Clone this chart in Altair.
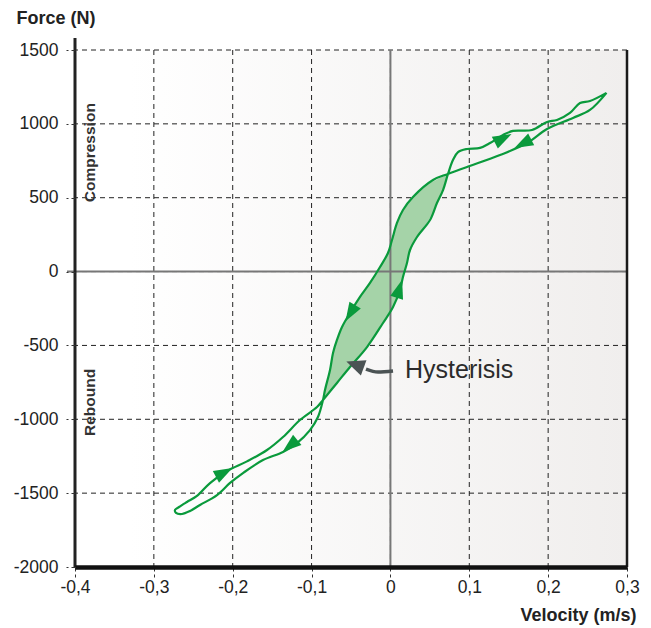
import altair as alt
import pandas as pd

# ---------------- data ----------------
x_ticks = [-0.4, -0.3, -0.2, -0.1, 0.0, 0.1, 0.2, 0.3]
y_ticks = [-2000, -1500, -1000, -500, 0, 500, 1000, 1500]

# closed damper loop (velocity m/s, force N), in drawing order
loop_vx = [0.274, 0.253, 0.2315, 0.1986, 0.1732, 0.139, 0.0971, 0.073, 0.054, 0.0286,
           0.0159, 0.0083, 0.002, -0.0031, -0.0132, -0.0259, -0.0386, -0.0513, -0.0614, -0.0678,
           -0.0728, -0.0766, -0.083, -0.0855, -0.0919, -0.102, -0.1185, -0.1362, -0.1616, -0.187,
           -0.2034, -0.2199, -0.2415, -0.2542, -0.2643, -0.2719, -0.2732, -0.2681, -0.258, -0.2453,
           -0.2288, -0.2072, -0.1819, -0.1565, -0.1362, -0.1147, -0.0931, -0.0855, -0.0678, -0.0513,
           -0.0297, -0.0094, 0.0033, 0.0121, 0.0159, 0.021, 0.0248, 0.0337, 0.0502, 0.059,
           0.0667, 0.073, 0.0793, 0.0857, 0.0971, 0.1136, 0.1263, 0.1428, 0.1554, 0.1795,
           0.1986, 0.2112, 0.2277, 0.2404, 0.2531, 0.274]
loop_fy = [1210, 1094, 1040, 965, 870, 789, 708, 661, 620, 505,
           417, 329, 214, 126, 31, -77, -172, -280, -375, -463,
           -551, -666, -802, -869, -985, -1073, -1161, -1221, -1276, -1364,
           -1431, -1513, -1580, -1621, -1641, -1634, -1614, -1594, -1560, -1519,
           -1432, -1350, -1285, -1208, -1120, -1005, -917, -869, -754, -646,
           -511, -348, -240, -125, -37, 58, 146, 234, 349, 464,
           552, 661, 755, 809, 830, 837, 870, 925, 952, 958,
           1013, 1026, 1074, 1141, 1155, 1210]

# shaded hysteresis lobe: force level, left and right velocity
fill_fy = [661, 600, 500, 400, 300, 200, 100, 0, -100, -200, -300, -400, -500, -600, -700, -800, -869]
fill_left = [0.073, 0.050, 0.028, 0.0145, 0.0067, 0.0012, -0.0059, -0.0168, -0.029, -0.0419,
             -0.0534, -0.0632, -0.0699, -0.0744, -0.0782, -0.0829, -0.0855]
fill_right = [0.073, 0.0695, 0.0621, 0.0541, 0.043, 0.0303, 0.0228, 0.0179, 0.0129, 0.0064,
              -0.0038, -0.0159, -0.0283, -0.0439, -0.0595, -0.0749, -0.0855]

# direction arrows on the loop
arrow_vx = [0.1694, 0.1415, -0.050, 0.0109, -0.1261, -0.2123]
arrow_fy = [870, 898, -274, -125, -1174, -1364]
arrow_angle = [243, 63, 211, 17, 231, 62]

# annotation
note_text = ["Hysterisis"]
note_vx = [0.0185]
note_fy = [-666]
pointer_vx = [0.0033, -0.0158, -0.031]
pointer_fy = [-673, -680, -660]
pointer_head_vx = [-0.0437]
pointer_head_fy = [-633]
pointer_head_angle = [290]

side_text = ["Compression", "Rebound"]
side_vx = [-0.381, -0.381]
side_fy = [805, -886]

# ---------------- chart ----------------
W, H = 552, 517
FONT = "Liberation Sans"
GREEN = "#0a9a3c"

xs = alt.Scale(domain=[-0.4, 0.3], nice=False, zero=False)
ys = alt.Scale(domain=[-2000, 1500], nice=False, zero=False)

x_axis = alt.Axis(values=x_ticks, grid=False, domain=True, domainColor="#111111",
                  domainWidth=4.5, ticks=True, tickSize=10, tickColor="#333333",
                  tickDash=[4, 3], tickWidth=1, labelFlush=False, labelOverlap=False,
                  labelExpr="abs(datum.value) < 1e-9 ? '0' : (datum.value < 0 ? '-' : '') + replace(format(abs(datum.value), '.1f'), '.', ',')",
                  labelFont=FONT, labelFontSize=17.5, labelColor="#222222", labelPadding=1,
                  title="Velocity (m/s)", titleFont=FONT, titleFontSize=18,
                  titleFontWeight="bold", titleColor="#222222", titleAlign="right",
                  titleBaseline="middle", titleX=561, titleY=48, zindex=1)
y_axis = alt.Axis(values=y_ticks, grid=False, domain=False, ticks=True, tickSize=9,
                  tickColor="#333333", tickDash=[4, 3], tickWidth=1, labelFlush=False,
                  labelOverlap=False,
                  labelExpr="(datum.value < 0 ? '-' : '') + format(abs(datum.value), 'd')",
                  labelFont=FONT, labelFontSize=17.5, labelColor="#222222", labelPadding=8,
                  title="Force (N)", titleFont=FONT, titleFontSize=18,
                  titleFontWeight="bold", titleColor="#222222", titleAngle=0,
                  titleAlign="left", titleBaseline="middle", titleX=-59, titleY=-32,
                  zindex=1)


def X(field):
    return alt.X(field, scale=xs, axis=x_axis, title="Velocity (m/s)")


def Y(field):
    return alt.Y(field, scale=ys, axis=y_axis, title="Force (N)")


loop_df = pd.DataFrame({"v": loop_vx, "f": loop_fy, "i": list(range(len(loop_vx)))})
fill_df = pd.DataFrame({"f": fill_fy, "l": fill_left, "r": fill_right})
arrow_df = pd.DataFrame({"v": arrow_vx, "f": arrow_fy, "a": arrow_angle})
note_df = pd.DataFrame({"v": note_vx, "f": note_fy, "t": note_text})
pointer_df = pd.DataFrame({"v": pointer_vx, "f": pointer_fy})
head_df = pd.DataFrame({"v": pointer_head_vx, "f": pointer_head_fy, "a": pointer_head_angle})
side_df = pd.DataFrame({"v": side_vx, "f": side_fy, "t": side_text})
xt_df = pd.DataFrame({"v": x_ticks})
yt_df = pd.DataFrame({"f": y_ticks})
one = pd.DataFrame({"a": [0]})

background = alt.Chart(one).mark_rect(
    fill=alt.Gradient(
        gradient="linear",
        stops=[alt.GradientStop(color="#ffffff", offset=0),
               alt.GradientStop(color="#ffffff", offset=0.1),
               alt.GradientStop(color="#f0eeed", offset=1)],
        x1=0, x2=1, y1=0, y2=0),
).encode(x=alt.value(0), x2=alt.value(W), y=alt.value(0), y2=alt.value(H))

vgrid = alt.Chart(xt_df).mark_rule(color="#222222", strokeWidth=1, strokeDash=[5, 4]).encode(
    x=X("v:Q"))
hgrid = alt.Chart(yt_df).mark_rule(color="#222222", strokeWidth=1, strokeDash=[5, 4]).encode(
    y=Y("f:Q"))

lobe = alt.Chart(fill_df).mark_area(orient="horizontal", color="#a5d3a8", opacity=1).encode(
    y=Y("f:Q"), x=X("l:Q"), x2="r:Q")

zero_v = alt.Chart(pd.DataFrame({"v": [0.0]})).mark_rule(color="#777777", strokeWidth=2).encode(
    x=X("v:Q"))
zero_h = alt.Chart(pd.DataFrame({"f": [0]})).mark_rule(color="#777777", strokeWidth=2).encode(
    y=Y("f:Q"), x=alt.value(-8), x2=alt.value(W))

loop = alt.Chart(loop_df).mark_line(color=GREEN, strokeWidth=2.2, interpolate="catmull-rom",
                                    strokeJoin="round").encode(
    x=X("v:Q"), y=Y("f:Q"), order="i:Q")

arrows = alt.Chart(arrow_df).mark_point(shape="M0,-1L-0.62,0.75L0.62,0.75Z", filled=True,
                                        size=460, color=GREEN, opacity=1).encode(
    x=X("v:Q"), y=Y("f:Q"), angle=alt.Angle("a:Q", scale=None))

pointer = alt.Chart(pointer_df).mark_line(color="#4b5354", strokeWidth=3.5, interpolate="monotone").encode(
    x=X("v:Q"), y=Y("f:Q"))
pointer_head = alt.Chart(head_df).mark_point(shape="M0,-1L-0.8,0.8L0.8,0.8Z", filled=True,
                                             size=420, color="#4b5354", opacity=1).encode(
    x=X("v:Q"), y=Y("f:Q"), angle=alt.Angle("a:Q", scale=None))

note = alt.Chart(note_df).mark_text(align="left", baseline="middle", font=FONT, fontSize=25,
                                    color="#2b2b2b").encode(
    x=X("v:Q"), y=Y("f:Q"), text="t:N")

side = alt.Chart(side_df).mark_text(align="center", baseline="middle", angle=270, font=FONT,
                                    fontSize=15.5, fontWeight="bold", color="#333333").encode(
    x=X("v:Q"), y=Y("f:Q"), text="t:N")

left_axis = alt.Chart(one).mark_rule(color="#222222", strokeWidth=3).encode(
    x=alt.value(0), y=alt.value(-12), y2=alt.value(H))
right_border = alt.Chart(one).mark_rule(color="#1a1a1a", strokeWidth=2.5).encode(
    x=alt.value(W), y=alt.value(0), y2=alt.value(H))

chart = alt.layer(
    background, vgrid, hgrid, lobe, zero_v, zero_h, loop, arrows,
    pointer, pointer_head, note, side, left_axis, right_border
).properties(
    width=W, height=H,
    padding={"left": 67, "top": 42, "right": 16, "bottom": 62},
    autosize=alt.AutoSizeParams(type="none"),
).configure_view(stroke=None).configure(background="#ffffff")

chart.save("out.html", embed_options={"renderer": "svg", "actions": False})
